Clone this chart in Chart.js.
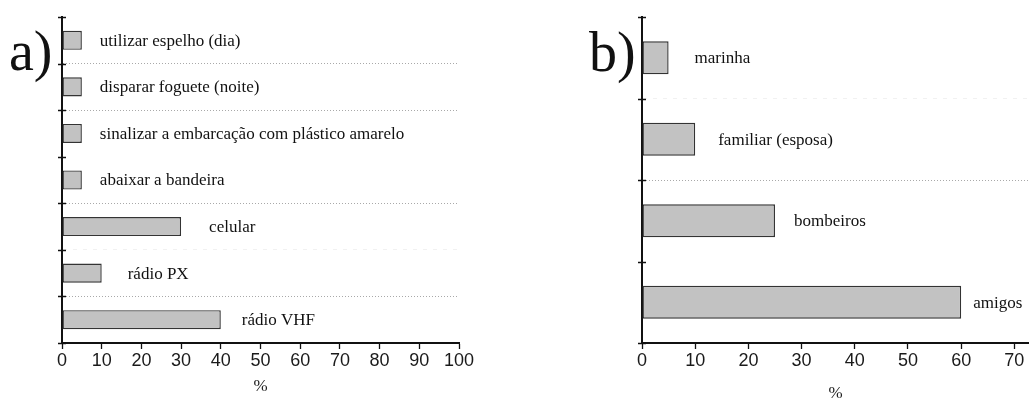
<!DOCTYPE html>
<html>
<head>
<meta charset="utf-8">
<script src="https://cdn.jsdelivr.net/npm/chart.js@4"></script>
<style>
  html, body { margin: 0; padding: 0; background: #fff; width: 1029px; height: 401px; overflow: hidden; }
  .panel { position: absolute; top: 0; }
  .tag { position: absolute; font-family: 'Liberation Serif', 'Times New Roman', serif; font-size: 56px; line-height: 1; color: #111; }
</style>
</head>
<body>
<div class="panel" style="left:0px"><canvas id="chartA" width="500" height="401"></canvas></div>
<div class="panel" style="left:560px"><canvas id="chartB" width="469" height="410"></canvas></div>
<div class="tag" style="left:9px;top:23px">a)</div>
<div class="tag" style="left:589px;top:24px">b)</div>
<script>
// a) signalling means used in an emergency
const meansLabels = [
  'utilizar espelho (dia)',
  'disparar foguete (noite)',
  'sinalizar a embarcação com plástico amarelo',
  'abaixar a bandeira',
  'celular',
  'rádio PX',
  'rádio VHF'
];
const meansValues = [5, 5, 5, 5, 30, 10, 40];
const meansTicks = [0, 10, 20, 30, 40, 50, 60, 70, 80, 90, 100];

// b) who is contacted first
const contactLabels = ['marinha', 'familiar (esposa)', 'bombeiros', 'amigos'];
const contactValues = [5, 10, 25, 60];
const contactTicks = [0, 10, 20, 30, 40, 50, 60, 70];

const axisUnit = '%';

const SERIF = "'Liberation Serif', 'Times New Roman', serif";
const SANS = "'Liberation Sans', Arial, sans-serif";

// category name written just past the end of each bar
const barText = {
  id: 'barText',
  afterDatasetsDraw(chart, args, opts) {
    const ctx = chart.ctx;
    const meta = chart.getDatasetMeta(0);
    ctx.save();
    ctx.font = '17px ' + SERIF;
    ctx.fillStyle = '#111';
    ctx.textBaseline = 'middle';
    ctx.textAlign = 'left';
    meta.data.forEach((bar, i) => {
      ctx.fillText(chart.data.labels[i], bar.x + opts.gaps[i], bar.y + 1);
    });
    ctx.restore();
  }
};

// short marks crossing the category axis at each category boundary
const axisMarks = {
  id: 'axisMarks',
  afterDraw(chart) {
    const ys = chart.scales.y;
    const ctx = chart.ctx;
    const n = chart.data.labels.length;
    const half = (ys.getPixelForValue(1) - ys.getPixelForValue(0)) / 2;
    const x0 = chart.chartArea.left;
    ctx.save();
    ctx.strokeStyle = '#111';
    ctx.lineWidth = 1.5;
    for (let k = 0; k <= n; k++) {
      const py = Math.round(ys.getPixelForValue(k) - half) + 0.5;
      ctx.beginPath();
      ctx.moveTo(x0 - 4, py);
      ctx.lineTo(x0 + 4, py);
      ctx.stroke();
    }
    ctx.restore();
  }
};

function buildChart(id, labels, values, ticks, cfg) {
  return new Chart(document.getElementById(id), {
    type: 'bar',
    data: {
      labels: labels,
      datasets: [{
        data: values,
        backgroundColor: '#c2c2c2',
        borderColor: '#333',
        borderWidth: 1.4,
        borderSkipped: false,
        categoryPercentage: 1,
        barPercentage: cfg.barPct
      }]
    },
    options: {
      indexAxis: 'y',
      responsive: false,
      animation: false,
      layout: { padding: cfg.padding },
      plugins: {
        legend: { display: false },
        tooltip: { enabled: false },
        barText: { gaps: cfg.gaps }
      },
      scales: {
        x: {
          type: 'linear',
          min: 0,
          max: cfg.max,
          afterBuildTicks: s => { s.ticks = ticks.map(v => ({ value: v })); },
          afterFit: s => { s.height = cfg.xHeight; },
          ticks: {
            font: { family: SANS, size: 18 },
            color: '#1a1a1a',
            padding: 1,
            maxRotation: 0
          },
          grid: {
            drawOnChartArea: false,
            drawTicks: true,
            tickLength: 6,
            tickColor: '#111',
            tickWidth: 1.3
          },
          border: { display: true, color: '#111', width: 2 },
          title: {
            display: true,
            text: axisUnit,
            font: { family: SERIF, size: 17 },
            color: '#222',
            padding: { top: 0, bottom: cfg.titlePad }
          }
        },
        y: {
          type: 'category',
          afterFit: s => { s.width = 0; },
          ticks: { display: false },
          grid: {
            offset: true,
            drawTicks: false,
            lineWidth: 1,
            color: c => {
              const st = cfg.gridMarks[c.index];
              if (st === 'dot') return '#a9a9a9';
              if (st === 'faint') return 'rgba(200,200,200,0.25)';
              return 'rgba(0,0,0,0)';
            }
          },
          border: {
            display: true,
            color: '#111',
            width: 2,
            dash: c => {
              if (c.type !== 'tick') return [];
              const st = cfg.gridMarks[c.index];
              if (st === 'dot') return [1, 2];
              if (st === 'faint') return [4, 6];
              return [];
            }
          }
        }
      }
    },
    plugins: [barText, axisMarks]
  });
}

buildChart('chartA', meansLabels, meansValues, meansTicks, {
  max: 100,
  barPct: 0.41,
  padding: { left: 62, top: 17, right: 41, bottom: 0 },
  xHeight: 58,
  titlePad: 4,
  gaps: [18, 18, 18, 18, 28, 26, 21],
  gridMarks: { 1: 'dot', 2: 'dot', 4: 'dot', 5: 'faint', 6: 'dot' }
});

buildChart('chartB', contactLabels, contactValues, contactTicks, {
  max: 72.75,
  barPct: 0.405,
  padding: { left: 82, top: 17, right: 0, bottom: 0 },
  xHeight: 67,
  titlePad: 6,
  gaps: [26, 23, 19, 12],
  gridMarks: { 1: 'faint', 2: 'dot' }
});
</script>
</body>
</html>
